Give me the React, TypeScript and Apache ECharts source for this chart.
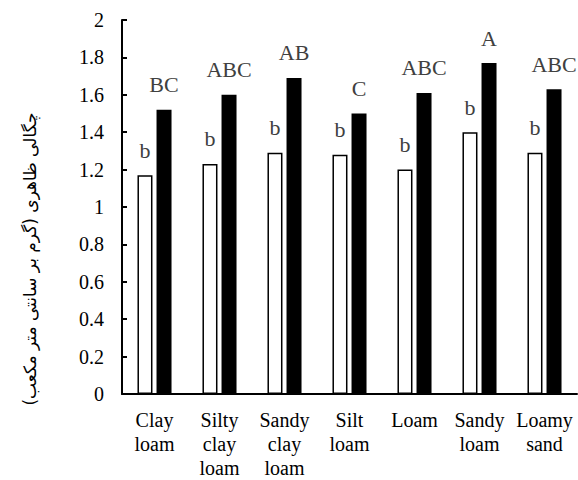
import React, { useEffect, useRef } from "react";
import * as echarts from "echarts";

const categories = ["Clay\nloam", "Silty\nclay\nloam", "Sandy\nclay\nloam", "Silt\nloam", "Loam", "Sandy\nloam", "Loamy\nsand"];
const whiteValues = [1.17, 1.23, 1.29, 1.28, 1.2, 1.4, 1.29];
const blackValues = [1.52, 1.6, 1.69, 1.5, 1.61, 1.77, 1.63];
const whiteLetters = ["b", "b", "b", "b", "b", "b", "b"];
const blackLetters = ["BC", "ABC", "AB", "C", "ABC", "A", "ABC"];
const yAxisTitle = "چگالی ظاهری (گرم بر سانتی متر مکعب)";

export default function App() {
  const ref = useRef<HTMLDivElement>(null);
  useEffect(() => {
    const chart = echarts.init(ref.current!, null, { renderer: "svg" });
    const serif = "Liberation Serif";
    chart.setOption({
      animation: false,
      backgroundColor: "#fff",
      textStyle: { fontFamily: serif },
      grid: { left: 122, right: 1, top: 20, bottom: 84, containLabel: false },
      xAxis: {
        type: "category",
        data: categories,
        axisLine: { lineStyle: { color: "#000", width: 2 } },
        axisTick: { inside: true, length: 5, lineStyle: { color: "#000", width: 2 } },
        axisLabel: { fontFamily: serif, fontSize: 20, color: "#000", lineHeight: 24, margin: 14, interval: 0 },
      },
      yAxis: {
        type: "value",
        min: 0,
        max: 2,
        interval: 0.2,
        splitLine: { show: false },
        axisLine: { show: true, lineStyle: { color: "#000", width: 2 } },
        axisTick: { show: true, inside: true, length: 5, lineStyle: { color: "#000", width: 2 } },
        axisLabel: { fontFamily: serif, fontSize: 20, color: "#000", margin: 18 },
      },
      graphic: [
        {
          type: "text",
          x: 30,
          y: 259,
          rotation: Math.PI / 2,
          style: {
            text: yAxisTitle,
            fontFamily: "DejaVu Sans",
            fontSize: 17,
            fill: "#000",
            align: "center",
            verticalAlign: "middle",
          },
        },
      ],
      series: [
        {
          type: "bar",
          data: whiteValues,
          barWidth: 15,
          barGap: "27%",
          itemStyle: { color: "#fff", borderColor: "#000", borderWidth: 1.5 },
          label: {
            show: true,
            position: "top",
            distance: 14,
            fontFamily: serif,
            fontSize: 22,
            color: "#404040",
            formatter: (p: any) => whiteLetters[p.dataIndex],
          },
        },
        {
          type: "bar",
          data: blackValues,
          barWidth: 15,
          itemStyle: { color: "#000" },
          label: {
            show: true,
            position: "top",
            distance: 14,
            fontFamily: serif,
            fontSize: 22,
            color: "#404040",
            formatter: (p: any) => blackLetters[p.dataIndex],
          },
        },
      ],
    });
    return () => chart.dispose();
  }, []);
  return (
    <div>
      <div ref={ref} style={{ width: 578, height: 480, position: "absolute", left: 0, top: 0 }} />
      <span style={{ fontFamily: "Liberation Serif", position: "absolute", left: 0, top: 0, color: "transparent", pointerEvents: "none" }}>{"\u00a0"}</span>
    </div>
  );
}
